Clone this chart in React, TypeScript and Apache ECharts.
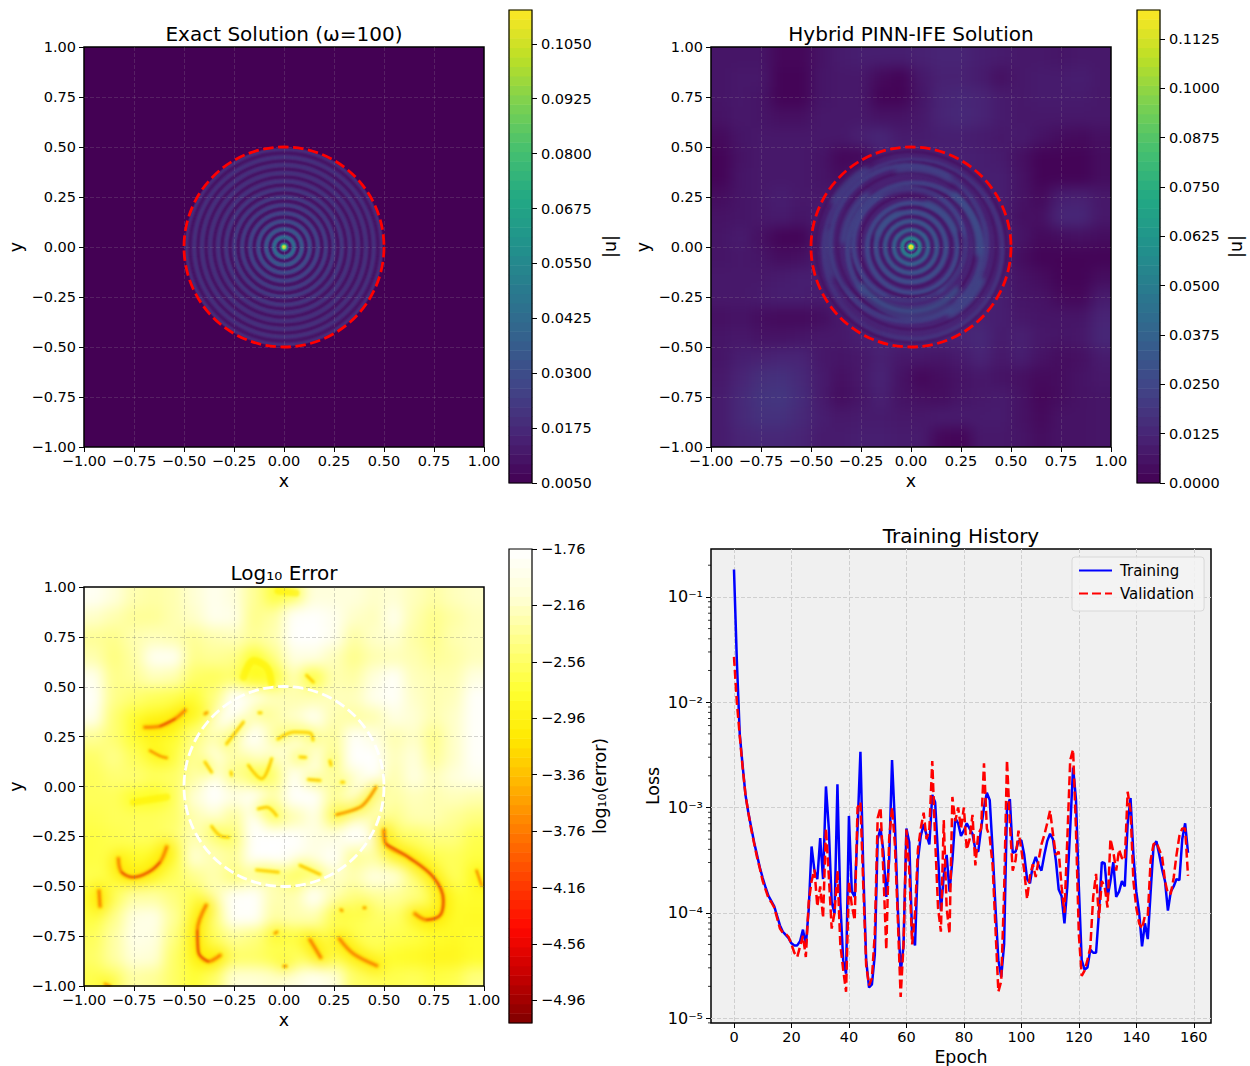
import React, { useEffect, useRef } from "react";
import * as echarts from "echarts";

const FONT = "DejaVu Sans";
const viridis = ["#440154", "#482475", "#414487", "#355f8d", "#2a788e", "#21918c", "#22a884", "#44bf70", "#7ad151", "#bddf26", "#fde725"];
const errorColors = ["#800000", "#c50000", "#ff0800", "#ff4000", "#ff7800", "#ffb200", "#ffe900", "#ffff31", "#ffff83", "#ffffd6", "#ffffff"];

const planeTicks = [-1, -0.75, -0.5, -0.25, 0, 0.25, 0.5, 0.75, 1];
const exactBarTicks = [0.005, 0.0175, 0.03, 0.0425, 0.055, 0.0675, 0.08, 0.0925, 0.105];
const hybridBarTicks = [0, 0.0125, 0.025, 0.0375, 0.05, 0.0625, 0.075, 0.0875, 0.1, 0.1125];
const errorBarTicks = [-1.76, -2.16, -2.56, -2.96, -3.36, -3.76, -4.16, -4.56, -4.96];
const epochTicks = [0, 20, 40, 60, 80, 100, 120, 140, 160];
const lossDecades = [-5, -4, -3, -2, -1];
const interfaceRadius = 0.5;

// Exact solution: |u| by radius, one sample every 0.005, from the centre out
const exactRadialStep = 0.005;
const exactRadial = [
  0.1127, 0.108, 0.09, 0.06, 0.034, 0.017, 0.0105, 0.014, 0.028, 0.04, 0.043, 0.038, 0.026, 0.014,
  0.0105, 0.014, 0.025, 0.032, 0.034, 0.03, 0.021, 0.013, 0.0105, 0.013, 0.022, 0.028, 0.029, 0.026,
  0.019, 0.012, 0.0105, 0.013, 0.02, 0.025, 0.026, 0.024, 0.018, 0.012, 0.0105, 0.012, 0.018, 0.023,
  0.024, 0.022, 0.017, 0.012, 0.0105, 0.012, 0.018, 0.022, 0.023, 0.021, 0.016, 0.012, 0.0105, 0.012,
  0.017, 0.021, 0.022, 0.02, 0.016, 0.012, 0.0105, 0.012, 0.017, 0.02, 0.021, 0.019, 0.016, 0.012,
  0.0105, 0.012, 0.016, 0.019, 0.02, 0.019, 0.016, 0.012, 0.0105, 0.012, 0.016, 0.019, 0.02, 0.019,
  0.016, 0.012, 0.0105, 0.012, 0.016, 0.019, 0.02, 0.018, 0.015, 0.012, 0.0105, 0.012, 0.015, 0.018,
  0.019, 0.013,
];

// Hybrid solution: background |u| in thousandths, 20 x 20 cells, top row first
const hybridFieldMilli = [
  [7, 7, 7, 2, 2, 6, 9, 10, 10, 10, 11, 12, 12, 10, 9, 8, 8, 7, 8, 8],
  [7, 8, 8, 1, 1, 7, 8, 8, 3, 1, 8, 11, 11, 9, 5, 8, 9, 9, 10, 8],
  [7, 8, 7, 1, 1, 7, 8, 8, 1, 1, 7, 12, 13, 12, 9, 8, 9, 9, 9, 8],
  [6, 8, 7, 5, 5, 8, 8, 8, 6, 6, 8, 12, 14, 12, 9, 8, 8, 8, 8, 8],
  [3, 7, 8, 8, 8, 8, 8, 11, 13, 9, 9, 10, 10, 9, 8, 9, 6, 4, 3, 5],
  [1, 6, 8, 8, 8, 7, 2, 2, 10, 11, 11, 11, 11, 10, 9, 5, 1, 1, 1, 4],
  [1, 7, 8, 8, 8, 7, 4, 10, 11, 11, 11, 11, 11, 10, 10, 6, 1, 1, 1, 4],
  [4, 7, 8, 10, 8, 8, 9, 11, 11, 11, 11, 11, 11, 11, 10, 6, 3, 10, 11, 8],
  [6, 7, 8, 9, 7, 9, 11, 11, 11, 11, 11, 11, 11, 11, 10, 5, 5, 13, 13, 8],
  [7, 9, 5, 1, 1, 9, 12, 12, 12, 12, 12, 12, 12, 12, 11, 7, 3, 4, 5, 4],
  [7, 8, 7, 4, 5, 9, 12, 12, 12, 12, 12, 12, 12, 12, 10, 4, 1, 1, 1, 1],
  [8, 8, 8, 9, 10, 10, 12, 12, 12, 12, 12, 12, 12, 12, 10, 6, 4, 1, 1, 4],
  [8, 8, 9, 10, 10, 9, 12, 12, 12, 12, 12, 12, 12, 12, 10, 7, 6, 3, 2, 9],
  [5, 6, 4, 3, 3, 4, 8, 12, 12, 12, 12, 12, 12, 11, 10, 8, 7, 7, 7, 12],
  [7, 8, 6, 6, 7, 8, 8, 10, 12, 12, 12, 12, 12, 14, 9, 11, 8, 7, 8, 13],
  [7, 10, 11, 12, 12, 8, 7, 8, 11, 8, 8, 7, 9, 12, 8, 10, 6, 4, 5, 9],
  [8, 12, 16, 17, 14, 9, 5, 8, 12, 6, 2, 4, 6, 8, 6, 5, 3, 4, 6, 8],
  [9, 14, 18, 19, 15, 9, 4, 7, 11, 6, 5, 4, 7, 8, 9, 6, 2, 4, 6, 7],
  [9, 14, 17, 17, 14, 10, 8, 9, 9, 8, 8, 9, 9, 9, 9, 6, 3, 6, 6, 7],
  [9, 12, 13, 13, 12, 9, 9, 10, 10, 9, 9, 2, 1, 8, 8, 7, 4, 6, 6, 7],
];

// Hybrid solution core: radius, |u| (filled, outermost first)
const hybridCore = [
  [0.032, 0.012], [0.027, 0.02], [0.022, 0.04], [0.018, 0.065], [0.015, 0.09], [0.012, 0.108], [0.009, 0.119],
];
// Hybrid rings: radius, centre x, centre y, start deg, end deg, |u| in thousandths, width
const hybridRings = [
  [0.477, 0.0, 0.0, 0, 360, 5, 0.013],
  [0.447, 0.01, -0.012, 0, 360, 17, 0.024],
  [0.418, 0.008, 0.006, 0, 360, 6, 0.012],
  [0.39, -0.012, 0.018, 0, 360, 20, 0.026],
  [0.362, -0.006, 0.01, 0, 360, 5, 0.012],
  [0.335, 0.018, -0.015, 0, 360, 22, 0.026],
  [0.307, 0.012, -0.006, 0, 360, 5, 0.012],
  [0.28, -0.008, 0.012, 0, 360, 23, 0.024],
  [0.252, -0.004, 0.006, 0, 360, 5, 0.012],
  [0.225, 0.006, -0.004, 0, 360, 25, 0.024],
  [0.2, 0.003, 0.0, 0, 360, 6, 0.012],
  [0.175, 0.0, 0.0, 0, 360, 27, 0.024],
  [0.152, 0.0, 0.0, 0, 360, 7, 0.012],
  [0.13, 0.0, 0.0, 0, 360, 30, 0.022],
  [0.107, 0.0, 0.0, 0, 360, 8, 0.012],
  [0.085, 0.0, 0.0, 0, 360, 36, 0.02],
  [0.062, 0.0, 0.0, 0, 360, 10, 0.012],
  [0.044, 0.0, 0.0, 0, 360, 52, 0.02],
];
const hybridArcs = [
  [0.3, 0.0, -0.02, 215, 320, 30, 0.03],
  [0.35, 0.02, 0.0, 240, 300, 26, 0.022],
  [0.33, 0.0, -0.012, 225, 310, 6, 0.012],
  [0.265, 0.0, -0.005, 245, 300, 7, 0.012],
  [0.34, 0.0, 0.0, -5, 50, 28, 0.034],
  [0.34, 0.0, 0.0, 130, 175, 25, 0.028],
  [0.45, 0.0, 0.0, 120, 150, 24, 0.024],
  [0.39, 0.0, 0.0, 60, 100, 24, 0.024],
  [0.39, 0.0, 0.0, 300, 335, 27, 0.028],
  [0.42, 0.0, 0.0, 170, 200, 22, 0.024],
  [0.235, 0.0, 0.0, 20, 70, 29, 0.026],
  [0.18, 0.0, 0.0, 110, 160, 30, 0.022],
  [0.29, 0.0, 0.0, 60, 120, 10, 0.012],
  [0.41, 0.0, 0.0, 20, 60, 10, 0.014],
  [0.27, 0.0, 0.0, -50, 10, 9, 0.012],
  [0.37, 0.0, 0.0, 150, 210, 9, 0.014],
  [0.44, 0.0, 0.0, 215, 250, 11, 0.016],
];

// Log10 error: background field, 20 x 20 cells, top row first
const errorField = [
  [-1.85, -2.05, -2.25, -2.3, -2.25, -2.1, -1.9, -2.05, -2.35, -2.65, -2.3, -2.05, -2.05, -2.05, -2.15, -2.1, -2.2, -2.3, -2.2, -2.15],
  [-2.15, -2.25, -2.35, -2.35, -2.25, -2.15, -1.9, -1.95, -2.4, -2.3, -1.8, -1.78, -1.9, -2.15, -2.2, -1.9, -2.25, -2.4, -2.3, -2.2],
  [-2.35, -2.4, -2.25, -2.2, -2.25, -2.35, -2.25, -2.2, -2.35, -2.25, -1.78, -1.76, -1.9, -2.3, -2.15, -2.1, -2.3, -2.4, -2.25, -2.2],
  [-2.25, -2.45, -2.3, -1.85, -1.85, -2.4, -2.35, -2.4, -2.7, -2.4, -2.0, -2.0, -2.2, -2.4, -2.25, -2.2, -2.25, -2.35, -2.3, -2.2],
  [-1.9, -2.4, -2.35, -2.2, -2.25, -2.55, -2.6, -2.5, -2.85, -2.7, -2.25, -2.65, -2.25, -2.3, -2.05, -1.8, -2.2, -2.25, -2.25, -2.0],
  [-1.8, -2.4, -2.5, -2.6, -2.65, -2.75, -2.45, -1.78, -2.0, -2.2, -2.25, -2.25, -2.2, -2.2, -1.9, -1.8, -2.15, -2.25, -2.2, -1.8],
  [-1.9, -2.5, -2.75, -2.85, -2.85, -2.75, -2.1, -1.78, -2.1, -2.3, -2.15, -1.85, -2.25, -2.3, -2.25, -2.0, -2.1, -2.25, -2.15, -1.8],
  [-2.35, -2.5, -2.75, -2.85, -2.8, -2.45, -2.25, -2.0, -1.8, -2.2, -1.8, -2.15, -2.35, -1.8, -2.0, -2.25, -2.15, -2.4, -2.15, -1.8],
  [-2.55, -2.4, -2.6, -2.7, -2.65, -2.35, -2.0, -2.3, -2.15, -1.8, -2.25, -2.0, -2.35, -1.76, -1.76, -2.2, -2.05, -2.35, -2.15, -1.8],
  [-2.6, -2.5, -2.5, -2.6, -2.55, -2.3, -1.8, -2.25, -2.45, -2.45, -1.85, -1.85, -2.25, -2.1, -1.78, -2.25, -2.0, -2.2, -2.05, -1.9],
  [-2.6, -2.6, -2.75, -2.8, -2.55, -2.1, -1.76, -2.0, -1.8, -2.25, -1.78, -1.78, -2.35, -2.1, -2.1, -2.3, -2.2, -2.25, -2.2, -2.25],
  [-2.65, -2.6, -2.6, -2.6, -2.55, -2.25, -2.1, -2.35, -1.8, -2.4, -2.25, -2.0, -2.45, -2.05, -2.25, -2.4, -2.25, -2.25, -2.35, -2.45],
  [-2.7, -2.65, -2.6, -2.6, -2.5, -2.25, -2.35, -2.45, -1.78, -1.76, -1.76, -2.0, -2.0, -1.76, -1.9, -2.55, -2.55, -2.45, -2.45, -2.65],
  [-2.7, -2.65, -2.8, -2.8, -2.7, -2.1, -2.25, -2.35, -1.78, -1.76, -1.85, -2.0, -1.8, -2.35, -2.3, -2.55, -2.7, -2.65, -2.6, -2.7],
  [-2.65, -2.7, -2.7, -2.7, -2.6, -2.4, -2.25, -2.45, -2.25, -2.25, -2.55, -2.25, -2.15, -2.25, -2.0, -2.1, -2.45, -2.65, -2.6, -2.75],
  [-2.75, -2.6, -2.3, -2.3, -2.45, -2.65, -2.25, -1.8, -1.78, -2.25, -2.25, -1.8, -2.25, -2.45, -2.35, -2.35, -2.45, -2.65, -2.75, -2.8],
  [-2.7, -2.4, -2.0, -1.95, -2.35, -2.7, -2.45, -1.8, -1.8, -2.3, -2.25, -2.25, -2.6, -2.65, -2.55, -2.55, -2.65, -2.75, -2.8, -2.85],
  [-2.6, -2.3, -1.95, -2.0, -2.45, -2.8, -2.6, -2.35, -2.45, -2.65, -2.7, -2.65, -2.65, -2.65, -2.6, -2.65, -2.7, -2.8, -2.85, -2.8],
  [-2.55, -2.3, -2.05, -2.1, -2.55, -2.8, -2.8, -2.55, -2.55, -2.65, -2.6, -2.55, -2.65, -2.7, -2.65, -2.8, -2.85, -2.9, -2.9, -2.8],
  [-2.65, -2.55, -2.3, -2.35, -2.55, -2.75, -2.55, -2.1, -2.1, -2.15, -2.05, -1.9, -2.05, -2.55, -2.6, -2.65, -2.6, -2.7, -2.65, -2.45],
];

// Low-error valleys (x, y along each valley), grouped by how deep they go
const deepValleys = [
  [[-0.695, 0.299], [-0.62, 0.304], [-0.545, 0.341], [-0.495, 0.383]],
  [[-0.828, -0.359], [-0.812, -0.426], [-0.753, -0.451], [-0.678, -0.426], [-0.62, -0.376], [-0.587, -0.301]],
  [[-0.39, -0.592], [-0.433, -0.717], [-0.428, -0.826], [-0.378, -0.872], [-0.32, -0.842]],
  [[0.5, -0.217], [0.51, -0.284], [0.622, -0.351], [0.747, -0.451], [0.797, -0.567], [0.78, -0.642], [0.713, -0.664], [0.655, -0.634]],
  [[-0.925, -0.52], [-0.92, -0.595]],
  [[0.13, -0.764], [0.183, -0.851]],
  [[0.277, -0.759], [0.347, -0.834], [0.463, -0.893]],
];
const mediumValleys = [
  [[-0.67, 0.182], [-0.62, 0.155], [-0.587, 0.146]],
  [[0.963, -0.418], [0.988, -0.492]],
  [[0.263, -0.138], [0.38, -0.101], [0.422, -0.059], [0.46, -0.001]],
  [[-0.395, 0.366], [-0.385, 0.372]],
  [[0.285, -0.614], [0.29, -0.618]],
  [[0.4, -0.604], [0.405, -0.604]],
  [[-0.045, -0.731], [-0.035, -0.725]],
  [[0.0, -0.896], [0.01, -0.896]],
  [[-0.895, -0.985], [-0.87, -0.995]],
];
const faintValleys = [
  [[-0.362, -0.197], [-0.32, -0.243], [-0.278, -0.251]],
  [[-0.137, -0.415], [-0.028, -0.426]],
  [[0.08, -0.392], [0.18, -0.437]],
  [[-0.128, -0.109], [-0.087, -0.101], [-0.037, -0.143]],
  [[0.122, 0.038], [0.18, 0.033]],
  [[-0.125, 0.371], [-0.115, 0.371]],
  [[-0.178, 0.108], [-0.112, 0.041], [-0.062, 0.141]],
  [[-0.395, 0.124], [-0.362, 0.074]],
  [[-0.265, 0.075], [-0.262, 0.06]],
  [[-0.287, 0.216], [-0.203, 0.324]],
  [[0.288, 0.024], [0.298, 0.024]],
  [[0.23, 0.13], [0.235, 0.11]],
  [[0.113, 0.558], [0.147, 0.524]],
  [[0.08, 0.15], [0.108, 0.148]],
  [[-0.03, 0.24], [0.05, 0.275], [0.13, 0.27], [0.145, 0.235]],
];
const softValleys = [
  [[-0.203, 0.549], [-0.153, 0.632], [-0.087, 0.599], [-0.062, 0.516]],
  [[-0.753, -0.076], [-0.587, -0.05]],
  [[-0.03, 0.98], [0.06, 0.97]],
];

const trainingLog10 = [
  -0.74, -1.61, -2.3, -2.6, -2.88, -3.05, -3.19, -3.33, -3.45, -3.57, -3.67, -3.76, -3.84, -3.89, -3.94, -4.03, -4.12, -4.18, -4.21, -4.24,
  -4.29, -4.31, -4.31, -4.27, -4.16, -4.31, -3.97, -3.37, -3.6, -3.68, -3.29, -3.68, -2.8, -3.2, -3.9, -4.01, -2.78, -3.9, -4.45, -4.58,
  -3.08, -3.8, -3.85, -3.2, -2.47, -3.6, -4.45, -4.71, -4.68, -4.4, -3.3, -3.2, -3.42, -3.85, -3.5, -2.55, -3.15, -3.95, -4.57, -4.31,
  -3.2, -3.33, -4.22, -4.31, -3.5, -3.27, -3.16, -3.26, -3.35, -2.88, -2.95, -3.45, -3.98, -3.65, -3.45, -3.8, -3.5, -3.1, -3.15, -3.27,
  -3.22, -3.15, -3.2, -3.25, -3.4, -3.42, -3.2, -3.0, -2.86, -2.93, -3.4, -3.95, -4.45, -4.61, -4.3, -3.0, -2.92, -3.43, -3.42, -3.32,
  -3.31, -3.45, -3.68, -3.72, -3.55, -3.47, -3.55, -3.6, -3.45, -3.32, -3.25, -3.3, -3.5, -3.78, -3.84, -4.1, -3.75, -3.2, -2.62, -2.92,
  -3.75, -4.45, -4.54, -4.52, -4.35, -4.38, -4.38, -4.0, -3.52, -3.53, -3.85, -3.7, -3.52, -3.85, -3.8, -3.7, -3.75, -3.15, -2.91, -3.45,
  -3.8, -4.0, -4.32, -4.1, -4.25, -3.8, -3.37, -3.32, -3.45, -3.59, -3.7, -3.98, -3.8, -3.75, -3.68, -3.69, -3.3, -3.15, -3.43,
];
const validationLog10 = [
  -1.57, -2.0, -2.32, -2.62, -2.88, -3.05, -3.21, -3.34, -3.47, -3.58, -3.7, -3.78, -3.86, -3.9, -3.95, -4.05, -4.15, -4.19, -4.2, -4.23,
  -4.3, -4.38, -4.42, -4.32, -4.22, -4.42, -3.9, -3.7, -3.59, -3.94, -3.75, -4.05, -3.2, -3.65, -4.15, -4.0, -3.6, -4.3, -4.54, -4.75,
  -3.7, -3.93, -4.07, -3.0, -2.95, -3.75, -4.5, -4.69, -4.62, -4.2, -3.1, -3.0, -3.62, -4.35, -3.3, -3.0, -3.35, -4.05, -4.8, -4.3,
  -3.21, -3.6, -4.3, -4.0, -3.4, -3.2, -3.05, -3.3, -3.2, -2.56, -3.3, -3.95, -4.18, -3.12, -3.95, -4.2, -2.9, -3.13, -3.0, -3.2,
  -3.0, -3.4, -3.3, -3.07, -3.55, -3.25, -3.2, -2.58, -3.2, -3.28, -3.55, -4.15, -4.75, -4.65, -3.8, -2.55, -3.15, -3.6, -3.5, -3.22,
  -3.4, -3.6, -3.87, -3.65, -3.54, -3.66, -3.5, -3.35, -3.26, -3.15, -3.03, -3.25, -3.45, -3.42, -3.75, -4.0, -3.3, -2.55, -2.45, -3.2,
  -4.2, -4.6, -4.55, -4.45, -4.33, -3.85, -3.63, -4.05, -3.7, -3.75, -3.95, -3.3, -3.42, -3.6, -3.4, -3.48, -3.5, -2.85, -3.03, -3.7,
  -3.95, -4.1, -4.15, -4.03, -4.03, -3.5, -3.35, -3.33, -3.4, -3.47, -3.7, -3.82, -3.82, -3.67, -3.45, -3.27, -3.2, -3.2, -3.65,
];
const minorMantissas = [2, 3, 4, 5, 6, 7, 8, 9];
const minorDecades = [-6, -5, -4, -3, -2, -1];

const tickText = (d: number) => (v: number) => v.toFixed(d).replace("-", "\u2212");
const viridisAt = (value: number, max: number, min = 0) =>
  echarts.color.lerp(Math.min(1, Math.max(0, (value - min) / (max - min))), viridis);

const superscript: Record<string, string> = { "-": "\u207b", "1": "\u00b9", "2": "\u00b2", "3": "\u00b3", "4": "\u2074", "5": "\u2075" };
const logText = (v: number) => "10" + String(Math.round(v)).split("").map((c) => superscript[c]).join("");

const hiddenValueAxis = (min: number, max: number, gridIndex = 0) => ({
  type: "value", min, max, show: false, gridIndex,
});
const fullGrid = { left: 0, right: 0, top: 0, bottom: 0 };

// Background field with its edge row repeated outside the plot so a soft edge has something to fade to
function fieldSeries(field: number[][], scale: number, pad: number) {
  const n = field.length + pad * 2;
  const cats = Array.from({ length: n }, (_, i) => i);
  const data: number[][] = [];
  for (let yk = 0; yk < n; yk++) {
    for (let xk = 0; xk < n; xk++) {
      const row = Math.min(field.length - 1, Math.max(0, n - 1 - yk - pad));
      const col = Math.min(field.length - 1, Math.max(0, xk - pad));
      data.push([xk, yk, field[row][col] * scale]);
    }
  }
  return { cats, data };
}

function arcSeries(rows: number[][], barMax: number) {
  return {
    type: "custom",
    coordinateSystem: "cartesian2d",
    data: rows,
    renderItem: (_: any, api: any) => {
      const c = api.coord([api.value(1), api.value(2)]);
      const r = api.size([api.value(0), 0])[0];
      const w = api.size([api.value(6), 0])[0];
      const full = api.value(4) - api.value(3) >= 360;
      return {
        type: "arc",
        shape: {
          cx: c[0], cy: c[1], r,
          startAngle: (-api.value(4) * Math.PI) / 180,
          endAngle: (-api.value(3) * Math.PI) / 180,
          clockwise: true,
        },
        style: { fill: "none", stroke: viridisAt(api.value(5) / 1000, barMax), lineWidth: w, lineCap: full ? "butt" : "round" },
      };
    },
  };
}

function discSeries(rows: number[][], barMax: number, barMin: number) {
  return {
    type: "custom",
    coordinateSystem: "cartesian2d",
    data: rows,
    renderItem: (_: any, api: any) => {
      const c = api.coord([0, 0]);
      return {
        type: "circle",
        shape: { cx: c[0], cy: c[1], r: api.size([api.value(0), 0])[0] },
        style: { fill: viridisAt(api.value(1), barMax, barMin), stroke: "none" },
      };
    },
  };
}

function interfaceSeries(color: string, xAxisIndex: number, yAxisIndex: number) {
  return {
    type: "custom",
    coordinateSystem: "cartesian2d",
    xAxisIndex, yAxisIndex, z: 6, silent: true,
    data: [[0, 0, interfaceRadius]],
    renderItem: (_: any, api: any) => {
      const c = api.coord([api.value(0), api.value(1)]);
      return {
        type: "circle",
        shape: { cx: c[0], cy: c[1], r: api.size([api.value(2), 0])[0] },
        style: { fill: "none", stroke: color, lineWidth: 2.8, lineDash: [10.5, 4.5] },
      };
    },
  };
}

function colorbarSeries(levels: number, min: number, max: number, xAxisIndex: number, yAxisIndex: number) {
  const data = Array.from({ length: levels }, (_, i) => [0, i, min + ((i + 0.5) / levels) * (max - min)]);
  return {
    type: "heatmap", xAxisIndex, yAxisIndex, z: -1, silent: true,
    itemStyle: { borderWidth: 0 },
    data,
  };
}

function valleyLines(groups: number[][][], width: number, color: string, opacity = 1) {
  return groups.map((pts) => ({
    type: "line", data: pts, smooth: 0.35, showSymbol: false, symbol: "none", silent: true,
    lineStyle: { width, color, opacity, cap: "round", join: "round" },
  }));
}

const LEVELS = 50;
const barCats = Array.from({ length: LEVELS }, (_, i) => i);
const exactBar = { min: 0.005, max: 0.1127 };
const hybridBar = { min: 0, max: 0.1198 };
const errorBar = { min: -5.12, max: -1.76 };
const lossRange = { min: -5.047, max: -0.545 };

function planeAxes(gridIndex: number) {
  const common = {
    type: "value", min: -1, max: 1, interval: 0.25, gridIndex, z: 4,
    nameLocation: "middle",
    nameTextStyle: { fontSize: 17.4, color: "#000", fontFamily: FONT },
    axisLine: { show: false, onZero: false },
    axisTick: { show: true, length: 5, lineStyle: { color: "#000", width: 1 }, customValues: planeTicks },
    splitLine: { show: true, showMinLine: false, showMaxLine: false, lineStyle: { color: gridIndex === 2 ? "rgba(110,110,110,0.33)" : "rgba(170,170,170,0.22)", type: [4, 2], width: 0.9 } },
    axisLabel: { fontSize: 14.5, color: "#000", fontFamily: FONT, formatter: tickText(2), hideOverlap: false, showMinLabel: true, showMaxLabel: true },
  };
  return {
    x: { ...common, name: "x", nameGap: 25, axisLabel: { ...common.axisLabel, margin: 6 } },
    y: { ...common, name: "y", nameGap: 60, nameRotate: 90, axisLabel: { ...common.axisLabel, margin: 8 } },
  };
}

function barValueAxis(gridIndex: number, min: number, max: number, ticks: number[], digits: number, name: string, nameGap: number) {
  return {
    type: "value", gridIndex, min, max, position: "right", name, nameLocation: "middle", nameGap, nameRotate: 90,
    nameTextStyle: { fontSize: 17.4, color: "#000", fontFamily: FONT },
    axisLine: { show: false, onZero: false },
    axisTick: { show: true, length: 5, lineStyle: { color: "#000", width: 1 }, customValues: ticks },
    splitLine: { show: false },
    axisLabel: { fontSize: 14.5, color: "#000", fontFamily: FONT, margin: 9, formatter: tickText(digits), customValues: ticks },
  };
}
const hiddenCat = (gridIndex: number, data: number[]) => ({ type: "category", gridIndex, data, show: false });

export default function App() {
  const mainRef = useRef<HTMLDivElement>(null);
  const exactRef = useRef<HTMLDivElement>(null);
  const hyBackRef = useRef<HTMLDivElement>(null);
  const hyRingRef = useRef<HTMLDivElement>(null);
  const hyArcRef = useRef<HTMLDivElement>(null);
  const hyCoreRef = useRef<HTMLDivElement>(null);
  const errBackRef = useRef<HTMLDivElement>(null);
  const errLineRef = useRef<HTMLDivElement>(null);

  useEffect(() => {
    const init = (el: HTMLDivElement | null) => echarts.init(el as HTMLDivElement, undefined, { renderer: "svg" });
    const exactC = init(exactRef.current);
    const hyBackC = init(hyBackRef.current);
    const hyRingC = init(hyRingRef.current);
    const hyArcC = init(hyArcRef.current);
    const hyCoreC = init(hyCoreRef.current);
    const errBackC = init(errBackRef.current);
    const errLineC = init(errLineRef.current);
    const mainC = init(mainRef.current);

    const planeBase = {
      animation: false,
      grid: fullGrid,
      xAxis: hiddenValueAxis(-1, 1),
      yAxis: hiddenValueAxis(-1, 1),
    };

    // Exact solution rings
    const exactRows = exactRadial.map((v, i) => [(i + 0.5) * exactRadialStep, v]).reverse();
    exactC.setOption({ ...planeBase, series: [discSeries(exactRows, exactBar.max, exactBar.min)] });

    // Hybrid background
    const hy = fieldSeries(hybridFieldMilli, 0.001, 2);
    hyBackC.setOption({
      animation: false,
      grid: fullGrid,
      xAxis: hiddenCat(0, hy.cats),
      yAxis: hiddenCat(0, hy.cats),
      visualMap: { show: false, min: hybridBar.min, max: hybridBar.max, dimension: 2, inRange: { color: viridis } },
      series: [{ type: "heatmap", data: hy.data, itemStyle: { borderWidth: 0 } }],
    });

    // Hybrid rings, the uneven arcs over them, and the bright core
    hyRingC.setOption({ ...planeBase, series: [arcSeries(hybridRings, hybridBar.max)] });
    hyArcC.setOption({ ...planeBase, series: [arcSeries(hybridArcs, hybridBar.max)] });
    hyCoreC.setOption({ ...planeBase, series: [discSeries(hybridCore, hybridBar.max, hybridBar.min)] });

    // Error background with soft halos round the valleys
    const er = fieldSeries(errorField, 1, 2);
    const halo = (groups: number[][][], width: number, color: string, opacity: number) =>
      valleyLines(groups, width, color, opacity).map((s) => ({ ...s, xAxisIndex: 1, yAxisIndex: 1 }));
    errBackC.setOption({
      animation: false,
      grid: fullGrid,
      xAxis: [hiddenCat(0, er.cats), hiddenValueAxis(-1.2, 1.2)],
      yAxis: [hiddenCat(0, er.cats), hiddenValueAxis(-1.2, 1.2)],
      visualMap: { show: false, seriesIndex: 0, min: errorBar.min, max: errorBar.max, dimension: 2, inRange: { color: errorColors } },
      series: [
        { type: "heatmap", data: er.data, itemStyle: { borderWidth: 0 } },
        ...halo(deepValleys, 16, "#ffe800", 0.9),
        ...halo(mediumValleys, 12, "#fff000", 0.75),
        ...halo(faintValleys, 10, "#ffff30", 0.8),
        ...halo(softValleys, 12, "#ffff20", 0.9),
      ],
    });

    // Error valleys: sharp part, thinning to a red core along the middle of the deepest ones
    const innerParts = deepValleys.filter((p) => p.length >= 4).map((p) => p.slice(1, -1));
    errLineC.setOption({
      ...planeBase,
      series: [
        ...valleyLines(softValleys, 7, "#fff000", 0.6),
        ...valleyLines(faintValleys, 4, "#ffee00", 0.75),
        ...valleyLines(mediumValleys, 4.5, "#ffd800", 0.75),
        ...valleyLines(deepValleys, 6, "#ffc800", 0.7),
        ...valleyLines(faintValleys, 1.2, "#fbb000"),
        ...valleyLines(mediumValleys, 1.8, "#f88400"),
        ...valleyLines(deepValleys, 2.6, "#fa8200"),
        ...valleyLines(innerParts, 1.3, "#e03000"),
      ],
    });

    const p0 = planeAxes(0), p1 = planeAxes(1), p2 = planeAxes(2);
    const epochs = trainingLog10.map((_, i) => i);
    const minorValues: number[][] = [];
    minorDecades.forEach((d) =>
      minorMantissas.forEach((m) => {
        const v = d + Math.log10(m);
        if (v > lossRange.min && v < lossRange.max) minorValues.push([-8, v]);
      }),
    );

    const titleStyle = { fontSize: 20, fontWeight: "normal", color: "#000", fontFamily: FONT };
    const title = (text: string, left: number, top: number) => ({ text, left, top, textAlign: "center", textStyle: titleStyle, padding: 0 });

    mainC.setOption({
      animation: false,
      textStyle: { fontFamily: FONT },
      title: [
        title("Exact Solution (\u03c9=100)", 284, 24),
        title("Hybrid PINN-IFE Solution", 911, 24),
        title("Log\u2081\u2080 Error", 284, 563),
        title("Training History", 961, 526),
      ],
      grid: [
        { left: 84, top: 47, width: 400, height: 400, show: true, borderColor: "#000", borderWidth: 1.5, backgroundColor: "transparent" },
        { left: 711, top: 47, width: 400, height: 400, show: true, borderColor: "#000", borderWidth: 1.5, backgroundColor: "transparent" },
        { left: 84, top: 587, width: 400, height: 399, show: true, borderColor: "#000", borderWidth: 1.5, backgroundColor: "transparent" },
        { left: 711, top: 549, width: 500, height: 475, show: true, borderColor: "#000", borderWidth: 1.5, backgroundColor: "#f0f0f0" },
        { left: 509, top: 10, width: 23, height: 473, show: true, borderColor: "#000", borderWidth: 1.2, backgroundColor: "transparent" },
        { left: 1137, top: 10, width: 23, height: 473, show: true, borderColor: "#000", borderWidth: 1.2, backgroundColor: "transparent" },
        { left: 509, top: 549, width: 23, height: 474, show: true, borderColor: "#000", borderWidth: 1.2, backgroundColor: "transparent" },
      ],
      xAxis: [
        p0.x, p1.x, p2.x,
        {
          type: "value", gridIndex: 3, min: -8, max: 166, name: "Epoch", nameLocation: "middle", nameGap: 25,
          nameTextStyle: { fontSize: 17.4, color: "#000", fontFamily: FONT },
          axisLine: { show: false, onZero: false },
          axisTick: { show: true, length: 5, lineStyle: { color: "#000", width: 1 }, customValues: epochTicks },
          splitLine: { show: true, lineStyle: { color: "#cfcfcf", type: [4, 2], width: 1 } },
          axisLabel: { fontSize: 14.5, color: "#000", fontFamily: FONT, margin: 6, customValues: epochTicks },
        },
        hiddenCat(4, [0]), hiddenCat(5, [0]), hiddenCat(6, [0]),
      ],
      yAxis: [
        p0.y, p1.y, p2.y,
        {
          type: "value", gridIndex: 3, min: lossRange.min, max: lossRange.max, name: "Loss", nameLocation: "middle", nameGap: 50, nameRotate: 90,
          nameTextStyle: { fontSize: 17.4, color: "#000", fontFamily: FONT },
          axisLine: { show: false, onZero: false },
          axisTick: { show: true, length: 5, lineStyle: { color: "#000", width: 1 }, customValues: lossDecades },
          splitLine: { show: true, lineStyle: { color: "#cfcfcf", type: [4, 2], width: 1 } },
          axisLabel: { fontSize: 16, color: "#000", fontFamily: FONT, margin: 8, formatter: logText, customValues: lossDecades },
        },
        hiddenCat(4, barCats), hiddenCat(5, barCats), hiddenCat(6, barCats),
        barValueAxis(4, exactBar.min, exactBar.max, exactBarTicks, 4, "|u|", 69),
        barValueAxis(5, hybridBar.min, hybridBar.max, hybridBarTicks, 4, "|u|", 67),
        barValueAxis(6, errorBar.min, errorBar.max, errorBarTicks, 2, "log\u2081\u2080(error)", 59),
      ],
      visualMap: [
        { show: false, seriesIndex: 6, min: exactBar.min, max: exactBar.max, dimension: 2, inRange: { color: viridis } },
        { show: false, seriesIndex: 7, min: hybridBar.min, max: hybridBar.max, dimension: 2, inRange: { color: viridis } },
        { show: false, seriesIndex: 8, min: errorBar.min, max: errorBar.max, dimension: 2, inRange: { color: errorColors } },
      ],
      legend: {
        left: 1072, top: 557, orient: "vertical", itemWidth: 33, itemHeight: 14, itemGap: 8,
        padding: [6, 10, 10, 6], backgroundColor: "rgba(243,243,243,0.85)", borderColor: "#d8d8d8", borderWidth: 1, borderRadius: 3,
        textStyle: { fontSize: 15, color: "#000", fontFamily: FONT, padding: [0, 0, 0, 3] },
        itemStyle: { opacity: 0 },
        data: ["Training", "Validation"],
      },
      series: [
        interfaceSeries("#ff0000", 0, 0),
        interfaceSeries("#ff0000", 1, 1),
        interfaceSeries("#ffffff", 2, 2),
        {
          name: "Training", type: "line", xAxisIndex: 3, yAxisIndex: 3, showSymbol: false, symbol: "none",
          data: epochs.map((e) => [e, trainingLog10[e]]),
          lineStyle: { color: "#0000ff", width: 2.5 }, itemStyle: { color: "#0000ff" },
        },
        {
          name: "Validation", type: "line", xAxisIndex: 3, yAxisIndex: 3, showSymbol: false, symbol: "none",
          data: epochs.map((e) => [e, validationLog10[e]]),
          lineStyle: { color: "#ff0000", width: 2.5, type: [9, 4] }, itemStyle: { color: "#ff0000" },
        },
        {
          type: "custom", coordinateSystem: "cartesian2d", xAxisIndex: 3, yAxisIndex: 3, silent: true, data: minorValues,
          renderItem: (_: any, api: any) => {
            const c = api.coord([api.value(0), api.value(1)]);
            return { type: "line", shape: { x1: c[0], y1: c[1], x2: c[0] - 3, y2: c[1] }, style: { stroke: "#000", lineWidth: 0.8 } };
          },
        },
        colorbarSeries(LEVELS, exactBar.min, exactBar.max, 4, 4),
        colorbarSeries(LEVELS, hybridBar.min, hybridBar.max, 5, 5),
        colorbarSeries(LEVELS, errorBar.min, errorBar.max, 6, 6),
      ],
    });

    return () => {
      [exactC, hyBackC, hyRingC, hyArcC, hyCoreC, errBackC, errLineC, mainC].forEach((c) => c.dispose());
    };
  }, []);

  const clip = (left: number, top: number, bg: string): React.CSSProperties => ({
    position: "absolute", left, top, width: 400, height: 400, overflow: "hidden", background: bg,
  });
  const layer = (blur: number, inset = 0): React.CSSProperties => ({
    position: "absolute", left: -inset, top: -inset, width: 400 + inset * 2, height: 400 + inset * 2, filter: `blur(${blur}px)`,
  });

  return (
    <div style={{ position: "absolute", left: 0, top: 0, width: 1250, height: 1066, background: "#fff", overflow: "hidden" }}>
      <div style={clip(84, 47, viridis[0])}>
        <div ref={exactRef} style={layer(0.7)} />
      </div>
      <div style={clip(711, 47, "#461560")}>
        <div ref={hyBackRef} style={layer(7, 40)} />
        <div ref={hyRingRef} style={layer(1.1)} />
        <div ref={hyArcRef} style={layer(2.4)} />
        <div ref={hyCoreRef} style={layer(0.7)} />
      </div>
      <div style={clip(84, 586.5, "#ffff90")}>
        <div ref={errBackRef} style={layer(7, 40)} />
        <div ref={errLineRef} style={layer(0.9)} />
      </div>
      <div ref={mainRef} style={{ position: "absolute", left: 0, top: 0, width: 1250, height: 1066 }} />
    </div>
  );
}
